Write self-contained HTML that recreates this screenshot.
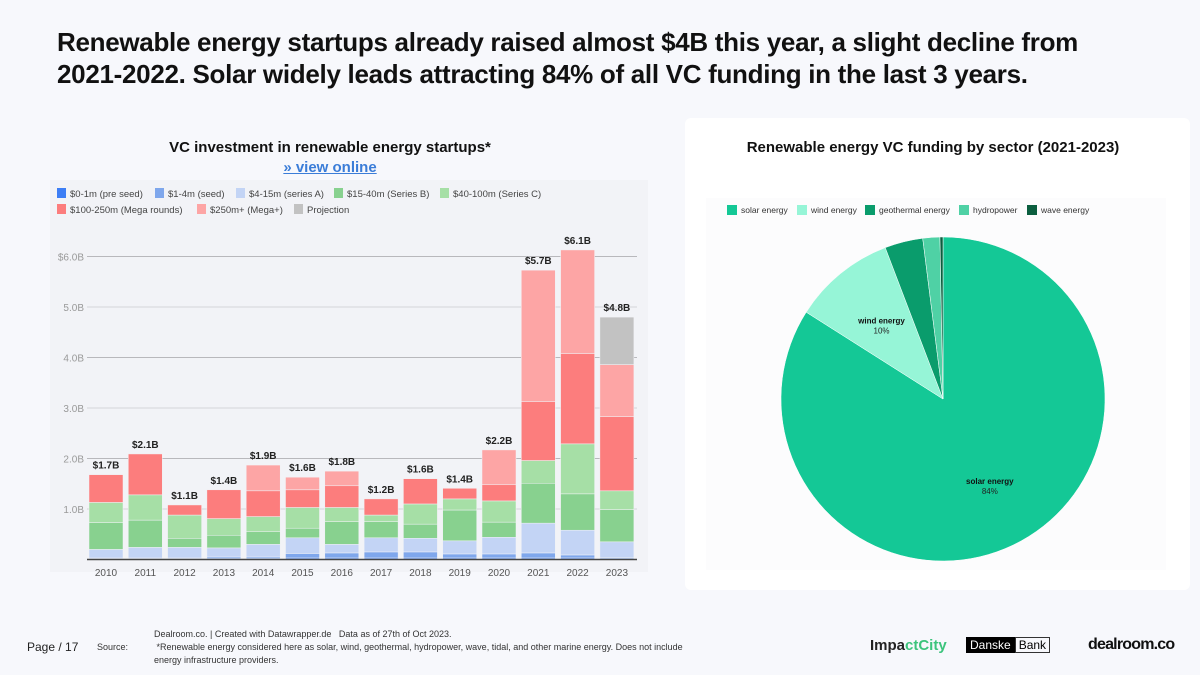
<!DOCTYPE html>
<html><head><meta charset="utf-8"><style>
body{margin:0;width:1200px;height:675px;background:#f7f8fc;font-family:"Liberation Sans",sans-serif;position:relative;overflow:hidden}
.abs{position:absolute}
</style></head><body>
<div class="abs" style="left:57px;top:26px;width:1070px;font-size:26px;font-weight:bold;color:#111;line-height:32px;letter-spacing:-0.3px">Renewable energy startups already raised almost $4B this year, a slight decline from 2021-2022. Solar widely leads attracting 84% of all VC funding in the last 3 years.</div>
<div class="abs" style="left:60px;top:139px;width:540px;text-align:center;font-size:15px;font-weight:bold;color:#111">VC investment in renewable energy startups*</div>
<div class="abs" style="left:60px;top:159px;width:540px;text-align:center;font-size:15px;font-weight:bold;color:#3b7dd8;text-decoration:underline">» view online</div>
<svg class="abs" style="left:0;top:0" width="1200" height="675" id="svg">
<rect x="50" y="180" width="598" height="392" fill="#f2f3f7"/>
<rect x="685" y="118" width="505" height="472" rx="6" fill="#fff"/>
<rect x="706" y="198" width="460" height="372" fill="#fcfcfd"/>
<text x="933" y="152" text-anchor="middle" font-size="15" font-weight="bold" fill="#111">Renewable energy VC funding by sector (2021-2023)</text>
<g id="bars"></g><g id="pie"></g><g id="legends"></g>
</svg>
<div class="abs" style="left:27px;top:640px;font-size:12px;color:#222">Page / 17</div>
<div class="abs" style="left:97px;top:642px;font-size:9px;color:#333">Source:</div>
<div class="abs" style="left:154px;top:628px;width:530px;font-size:9px;line-height:13px;color:#333">Dealroom.co. | Created with Datawrapper.de &nbsp; Data as of 27th of Oct 2023.<br>&nbsp;*Renewable energy considered here as solar, wind, geothermal, hydropower, wave, tidal, and other marine energy. Does not include energy infrastructure providers.</div>
<div class="abs" style="left:870px;top:637px;font-size:15px;font-weight:bold;color:#222">Impa<span style="color:#3cc47c">ctCity</span></div>
<div class="abs" style="left:966px;top:637px;font-size:12px;display:flex"><span style="background:#000;color:#fff;padding:1px 4px">Danske</span><span style="border:1px solid #333;padding:0 3px">Bank</span></div>
<div class="abs" style="left:1088px;top:636px;font-size:16px;font-weight:bold;color:#111;letter-spacing:-0.8px">dealroom.co</div>
<script>
const years=["2010","2011","2012","2013","2014","2015","2016","2017","2018","2019","2020","2021","2022","2023"];
const totals=["$1.7B","$2.1B","$1.1B","$1.4B","$1.9B","$1.6B","$1.8B","$1.2B","$1.6B","$1.4B","$2.2B","$5.7B","$6.1B","$4.8B"];
const preSeed=[.02,.02,.02,.02,.02,.03,.03,.03,.03,.03,.03,.03,.03,.02];
const seed=[.01,.01,.01,.03,.03,.09,.1,.12,.12,.08,.08,.1,.06,.02];
const seriesA=[.17,.21,.21,.18,.25,.31,.17,.28,.27,.26,.33,.59,.49,.31];
const seriesB=[.53,.54,.18,.25,.25,.19,.45,.32,.28,.61,.3,.79,.72,.64];
const seriesC=[.4,.5,.46,.33,.3,.41,.28,.13,.4,.22,.42,.45,.99,.37];
const mega=[.55,.81,.2,.57,.51,.35,.43,.32,.5,.21,.32,1.17,1.79,1.47];
const megaPlus=[0,0,0,0,.51,.25,.29,0,0,0,.69,2.6,2.05,1.03];
const projection=[0,0,0,0,0,0,0,0,0,0,0,0,0,.94];
const yTicks=[1,2,3,4,5,6];
const yTickLabels=["1.0B","2.0B","3.0B","4.0B","5.0B","$6.0B"];
const seriesNames=["$0-1m (pre seed)","$1-4m (seed)","$4-15m (series A)","$15-40m (Series B)","$40-100m (Series C)","$100-250m (Mega rounds)","$250m+ (Mega+)","Projection"];
const pieNames=["solar energy","wind energy","geothermal energy","hydropower","wave energy"];
const pieValues=[84,10.2,3.8,1.7,0.3];

const NS="http://www.w3.org/2000/svg";
function mk(t,a,p){const e=document.createElementNS(NS,t);for(const k in a)e.setAttribute(k,a[k]);p.appendChild(e);return e;}
const series=[preSeed,seed,seriesA,seriesB,seriesC,mega,megaPlus,projection];
const colors=["#3d7ef5","#7fa7ec","#c3d4f5","#88d18f","#a6dfa6","#fc7d7d","#fda5a5","#c2c2c2"];
const y0=559.5,pxPerB=50.5;
const yS=v=>y0-v*pxPerB;
const xS=i=>106+i*39.3;
const bw=34;
const bars=document.getElementById('bars');
yTicks.forEach((t,i)=>{
 const l=mk('line',{x1:87,x2:637,y1:yS(t),y2:yS(t),stroke:i%2==0?'#d4d4d8':'#b8b8bc','stroke-width':1},bars);
 
 
 const tx=mk('text',{x:84,y:yS(t)+4,'text-anchor':'end','font-size':10,fill:'#999'},bars);tx.textContent=yTickLabels[i];
 
 
});
years.forEach((yr,i)=>{
 let acc=0;
 series.forEach((s,k)=>{
  const v=s[i];if(v<=0)return;
  const r=mk('rect',{x:xS(i)-bw/2,y:yS(acc+v),width:bw,height:v*pxPerB,fill:colors[k],stroke:'#f2f3f7','stroke-width':0.5},bars);
  
  
  acc+=v;
 });
 const lb=mk('text',{x:xS(i),y:yS(acc)-6,'text-anchor':'middle','font-size':10,'font-weight':'bold',fill:'#222'},bars);lb.textContent=totals[i];
 
 
 const xl=mk('text',{x:xS(i),y:576,'text-anchor':'middle','font-size':10,fill:'#555'},bars);xl.textContent=yr;
 
 
});
mk('line',{x1:87,x2:637,y1:y0,y2:y0,stroke:'#444','stroke-width':1.5},bars);
const lg=document.getElementById('legends');
const lpos=[[57,196],[155,196],[236,196],[334,196],[440,196],[57,212],[197,212],[294,212]];
seriesNames.forEach((n,k)=>{
 const r=mk('rect',{x:lpos[k][0],y:lpos[k][1]-8,width:9,height:10,fill:colors[k]},lg);
 
 
 const t=mk('text',{x:lpos[k][0]+13,y:lpos[k][1]+1,'font-size':9.5,fill:'#444'},lg);t.textContent=n;
 
 
});
const pie=document.getElementById('pie');
const pc=["#14c896","#96f5d7","#0a9c6c","#4fd1a5","#0b5e3f"];
const cx=943,cy=399,R=162;
const total=pieValues.reduce((a,b)=>a+b,0);
let ang=0;
pieValues.forEach((v,k)=>{
 const a0=ang,a1=ang+v/total*2*Math.PI;ang=a1;
 const p=(a)=>[cx+R*Math.sin(a),cy-R*Math.cos(a)];
 const [x0,y0_]=p(a0),[x1,y1]=p(a1);
 const d=`M${cx},${cy}L${x0},${y0_}A${R},${R} 0 ${a1-a0>Math.PI?1:0} 1 ${x1},${y1}Z`;
 const s=mk('path',{d,fill:pc[k],stroke:'#fff','stroke-width':0.5},pie);
 
 
 if(v>=5){
  const m=(a0+a1)/2,rr=0.6;
  const lx=cx+R*rr*Math.sin(m),ly=cy-R*rr*Math.cos(m);
  const t1=mk('text',{x:lx,y:ly,'text-anchor':'middle','font-size':8,'font-weight':'bold',fill:'#111'},pie);t1.textContent=pieNames[k];
  
  
  const t2=mk('text',{x:lx,y:ly+10,'text-anchor':'middle','font-size':8,fill:'#222'},pie);t2.textContent=Math.round(v)+'%';
  
  
 }
});
const ppos=[727,797,865,959,1027];
pieNames.forEach((n,k)=>{
 const r=mk('rect',{x:ppos[k],y:205,width:10,height:10,fill:pc[k]},lg);
 
 
 const t=mk('text',{x:ppos[k]+14,y:213,'font-size':8.5,fill:'#333'},lg);t.textContent=n;
 
 
});
</script>
</body></html>
